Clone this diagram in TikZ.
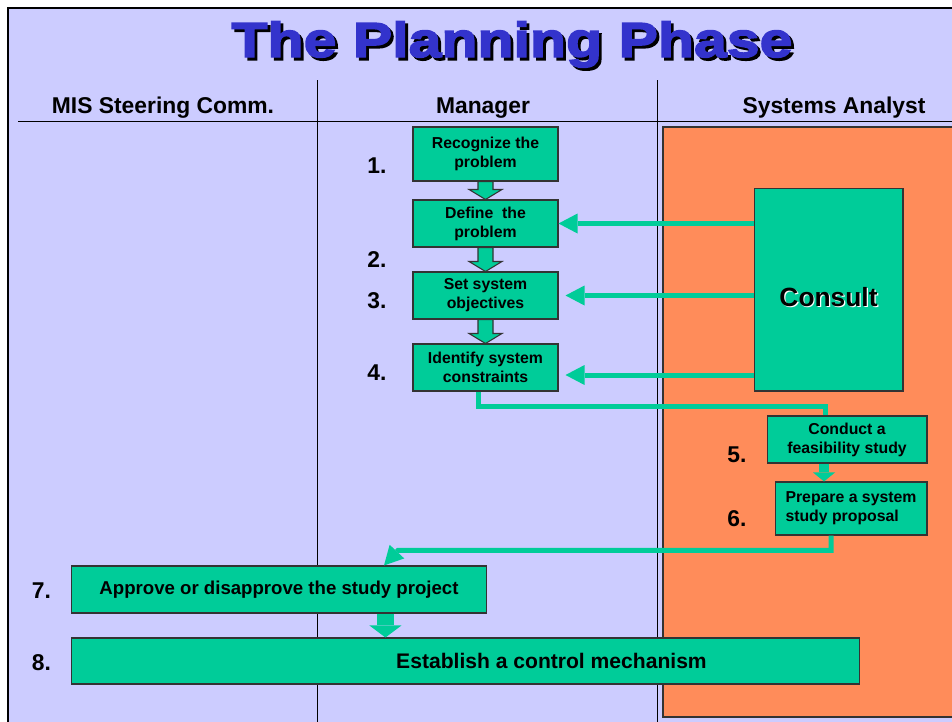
\documentclass[tikz,border=0pt]{standalone}
\usepackage{fontspec}
\setmainfont{Liberation Sans}
\newfontfamily\titlefont[FakeStretch=1.2,FakeBold=3]{Liberation Sans}
\usetikzlibrary{arrows.meta,calc}
\definecolor{lavender}{HTML}{CCCCFF}
\definecolor{seagreen}{HTML}{00CC99}
\definecolor{coral}{HTML}{FF8C5A}
\definecolor{titleblue}{HTML}{3333CC}
\newcommand\dropshadow[3]{\makebox[0pt][l]{\hspace{#1}\raisebox{-#1}{\color{#2}#3}}#3}

\begin{document}
\begin{tikzpicture}
 [x=0.02cm, y=-0.02cm,
  task/.style={draw=black!80, line width=0.6pt, fill=seagreen,
    font=\bfseries\fontsize{9}{10.8}\selectfont, align=center, inner sep=1pt},
  head/.style={font=\bfseries\fontsize{13}{15}\selectfont, anchor=base},
  num/.style={font=\bfseries\fontsize{13}{15}\selectfont, anchor=base},
  feed/.style={draw=seagreen, line width=0.1cm,
    -{Triangle[length=0.38cm, width=0.4cm, line width=0pt]}},
  link/.style={draw=seagreen, line width=0.1cm},
  blockarr/.style={draw=black!80, fill=seagreen, line width=0.6pt}]

  \useasboundingbox (0,0) rectangle (952,721);
  \fill[white] (0,0) rectangle (952,721);
  \fill[lavender] (8,8) rectangle (960,730);
  \draw[line width=0.05cm] (8,730) -- (8,8) -- (960,8);

  % lanes
  \draw[draw=black!80, fill=coral, line width=0.6pt] (663,127) rectangle (970,717);
  \draw[line width=0.5pt] (317,80) -- (317,730);
  \draw[line width=0.5pt] (657,80) -- (657,730);
  \draw[line width=0.5pt] (18,121) -- (960,121);

  \node[font=\titlefont\bfseries\fontsize{28}{32}\selectfont, text=titleblue, anchor=base]
    (title) at (512,57) {\dropshadow{1.6pt}{black}{The Planning Phase}};

  \node[head] (hsteer) at (163,113) {MIS Steering Comm.};
  \node[head] (hmgr) at (483,113) {Manager};
  \node[head] (hana) at (834,113) {Systems Analyst};

  \foreach \n/\x/\y in {1/377/173, 2/377/267, 3/377/308, 4/377/380,
                        5/737/462, 6/737/526, 7/41.5/598, 8/41.5/670}
    \node[num] (n\n) at (\x,\y) {\n.};

  \node[task, minimum width=2.9cm, minimum height=1.08cm] at (485.5,154) (rec)
    {Recognize the\\problem};
  \node[task, minimum width=2.9cm, minimum height=0.94cm] at (485.5,223.5) (define)
    {Define\ \ the\\problem};
  \node[task, minimum width=2.9cm, minimum height=0.94cm] at (485.5,295.5) (goals)
    {Set system\\objectives};
  \node[task, minimum width=2.9cm, minimum height=0.94cm] at (485.5,367.5) (limits)
    {Identify system\\constraints};

  \node[task, minimum width=2.98cm, minimum height=4.06cm, text height=19pt, text depth=0pt,
        font=\bfseries\fontsize{15}{18}\selectfont] at (828.5,289.5) (consult)
    {\dropshadow{0.7pt}{white}{Consult}};

  \node[task, minimum width=3.2cm, minimum height=0.94cm] at (847,439.5) (study)
    {Conduct a\\feasibility study};
  \node[task, minimum width=3.04cm, minimum height=1.06cm, align=left] at (851,508.5) (proposal)
    {Prepare a system\\study proposal};

  \node[task, minimum width=8.32cm, minimum height=0.94cm,
        font=\bfseries\fontsize{10.6}{13}\selectfont] at (279,589.5) (approve)
    {Approve or disapprove the study project};
  \node[task, minimum width=15.78cm, minimum height=0.92cm,
        font=\bfseries\fontsize{12}{14}\selectfont] at (465.5,661) (control)
    {\hspace*{3.44cm}Establish a control mechanism};

  % manager steps
  \foreach \a/\b in {rec/define, define/goals, goals/limits}
    \draw[blockarr] ($(\a.south)+(-7.5,0)$) -- ($(\b.north)+(-7.5,-10)$) -- ++(-9,0)
      -- (\b.north) -- ($(\b.north)+(16.5,-10)$) -- ++(-9,0) -- ($(\a.south)+(7.5,0)$) -- cycle;

  % consult feedback
  \coordinate (t2) at ([xshift=0.14cm]goals.east);
  \coordinate (t3) at ([xshift=0.14cm,yshift=-0.15cm]limits.east);
  \draw[feed] (consult.west |- define.east) -- (define.east);
  \draw[feed] (consult.west |- t2) -- (t2);
  \draw[feed] (consult.west |- t3) -- (t3);

  \coordinate (s1) at ([xshift=-0.15cm]limits.south);
  \coordinate (s2) at ([xshift=-0.44cm]study.north);
  \draw[link] (s1) |- ([yshift=0.18cm]s2) -- (s2);

  \coordinate (p1) at ([xshift=-0.46cm]study.south);
  \draw[draw=seagreen, line width=0.2cm,
        -{Triangle[length=0.18cm, width=0.44cm, line width=0pt]}] (p1) -- (p1 |- proposal.north);

  \coordinate (q1) at ([xshift=-0.4cm]proposal.south);
  \coordinate (q2) at ([xshift=2.1cm]approve.north);
  \draw[feed] (q1) |- ([xshift=0.28cm,yshift=0.3cm]q2) -- (q2);

  \coordinate (r1) at ([xshift=2.13cm]approve.south);
  \draw[draw=seagreen, line width=0.34cm,
        -{Triangle[length=0.24cm, width=0.64cm, line width=0pt]}] (r1) -- (r1 |- control.north);
\end{tikzpicture}
\end{document}
